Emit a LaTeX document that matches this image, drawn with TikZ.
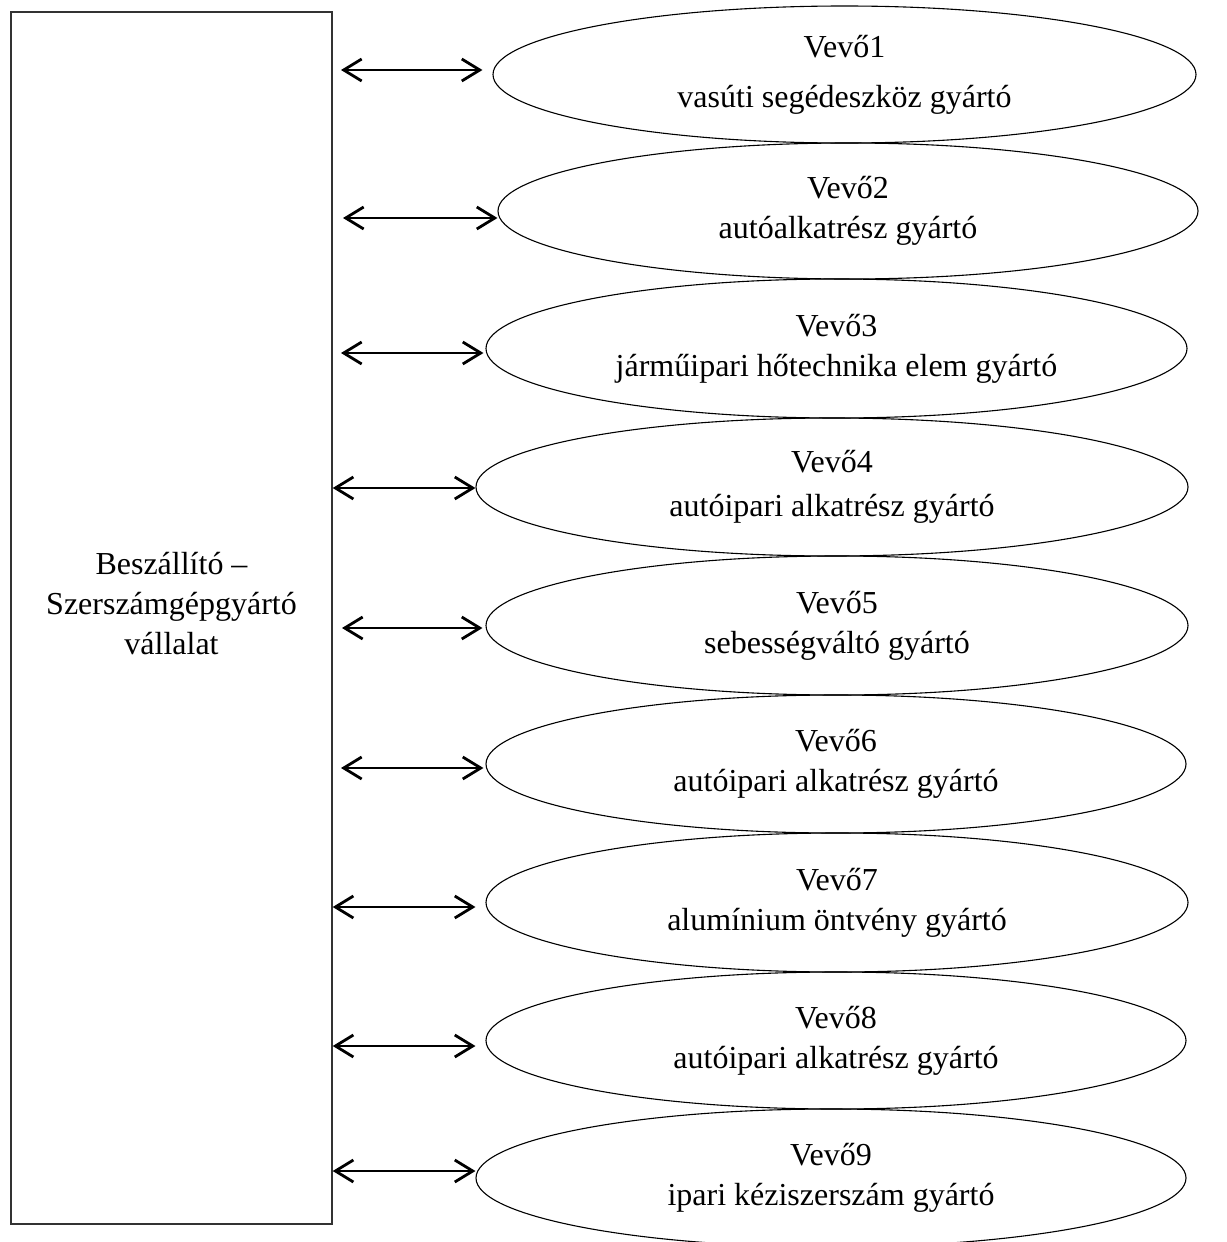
\documentclass[tikz,border=0pt]{standalone}
\usepackage{fontspec}
\setmainfont{Liberation Serif}
\usetikzlibrary{shapes.geometric,arrows.meta}
\begin{document}
\begin{tikzpicture}[x=1pt,y=-1pt,
  every node/.style={font=\fontsize{32}{40}\selectfont, align=center, inner sep=0pt},
  supbox/.style={draw=black!80, line width=1.4pt, minimum width=321pt, minimum height=1212pt},
  buyer/.style={draw, ellipse, line width=1.1pt},
  biarrow/.style={line width=2.8pt, {Straight Barb[length=18pt,width=22pt]}-{Straight Barb[length=18pt,width=22pt]}}]
\useasboundingbox (0,0) rectangle (1226,1242);
\begin{scope}
\clip (0,0) rectangle (1226,1242);

% supplier box and its caption
\node[supbox] (sup) at (171.5,618) {};
\node (suptext) at ([yshift=14pt]sup.center) {Beszállító –\\Szerszámgépgyártó\\vállalat};

% buyers
\node[buyer, minimum width=703pt, minimum height=137pt] (v1) at (844.5,74.5) {Vevő1\\[10pt]vasúti segédeszköz gyártó};
\node[buyer, minimum width=700pt, minimum height=136pt] (v2) at (848,211) {Vevő2\\autóalkatrész gyártó};
\node[buyer, minimum width=701pt, minimum height=139pt] (v3) at (836.5,348.5) {Vevő3\\járműipari hőtechnika elem gyártó};
\node[buyer, minimum width=712pt, minimum height=138pt] (v4) at (832,487) {Vevő4\\[4pt]autóipari alkatrész gyártó};
\node[buyer, minimum width=702pt, minimum height=139pt] (v5) at (837,625.5) {Vevő5\\sebességváltó gyártó};
\node[buyer, minimum width=700pt, minimum height=138pt] (v6) at (836,764) {Vevő6\\autóipari alkatrész gyártó};
\node[buyer, minimum width=702pt, minimum height=139pt] (v7) at (837,902.5) {Vevő7\\alumínium öntvény gyártó};
\node[buyer, minimum width=700pt, minimum height=137pt] (v8) at (836,1040.5) {Vevő8\\autóipari alkatrész gyártó};
\node[buyer, minimum width=710pt, minimum height=138pt] (v9) at (831,1178) {Vevő9\\ipari kéziszerszám gyártó};
\end{scope}

% free ends of the links near the supplier box
\coordinate (s1) at (341,70);
\coordinate (s2) at (343,218);
\coordinate (s3) at (341,353);
\coordinate (s4) at (sup.east |- 0,488);
\coordinate (s5) at (342,628);
\coordinate (s6) at (341,768);
\coordinate (s7) at (sup.east |- 0,907);
\coordinate (s8) at (sup.east |- 0,1046);
\coordinate (s9) at (sup.east |- 0,1171);

% two-way links
\draw[biarrow] (s1) -- ([xshift=-10pt]v1.west |- s1);
\draw[biarrow] (s2) -- (v2.west |- s2);
\draw[biarrow] (s3) -- ([xshift=-2pt]v3.west |- s3);
\draw[biarrow] (s4) -- (v4.west |- s4);
\draw[biarrow] (s5) -- ([xshift=-3pt]v5.west |- s5);
\draw[biarrow] (s6) -- ([xshift=-2pt]v6.west |- s6);
\draw[biarrow] (s7) -- ([xshift=-10pt]v7.west |- s7);
\draw[biarrow] (s8) -- ([xshift=-10pt]v8.west |- s8);
\draw[biarrow] (s9) -- (v9.west |- s9);
\end{tikzpicture}
\end{document}
